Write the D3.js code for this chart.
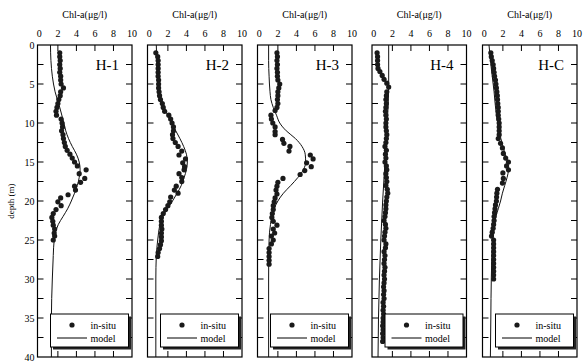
<!DOCTYPE html>
<html>
<head>
<meta charset="utf-8">
<script src="https://cdn.jsdelivr.net/npm/d3@7"></script>
<style>
body { margin: 0; background: #fff; }
svg { display: block; font-family: "Liberation Serif", "Times New Roman", serif; }
</style>
</head>
<body>
<script>
// station names and chl-a profiles, [depth (m), chl-a (ug/l)]
const stations = ["H-1", "H-2", "H-3", "H-4", "H-C"];
const chlTicks = [0, 2, 4, 6, 8, 10];
const depthLabels = [0, 5, 10, 15, 20, 25, 30, 35, 40];

const h1Insitu = [[1,2.2],[1.5,2.2],[2,2.25],[2.5,2.2],[3,2.25],[3.5,2.2],[4,2.3],[4.5,2.3],[5,2.35],[5.5,2.6],
  [6,2.3],[6.5,2.25],[7,2.1],[7.5,2.0],[8,1.9],[8.5,1.8],[9,1.85],[9.5,2.35],[10,2.45],[10.5,2.5],
  [11,2.4],[11.5,2.55],[12,2.6],[12.5,2.7],[13,2.8],[13.5,3.0],[14,3.3],[14.5,3.55],[15,3.8],[15.5,4.1],
  [16,5.05],[16.5,4.3],[17.1,4.9],[17.6,4.45],[18.1,3.8],[18.6,3.9],[19.2,3.1],[19.6,2.3],[20.1,2.0],[20.6,2.35],
  [21.1,1.8],[21.6,1.5],[22.1,1.35],[22.6,1.45],[23.1,1.5],[23.6,1.65],[24.1,1.6],[24.5,1.65],[25,1.5]];
const h2Insitu = [[1,0.7],[1.5,0.9],[2,0.95],[2.5,0.95],[3,0.95],[3.5,0.95],[4,0.95],[4.5,1.0],[5,1.0],[5.5,1.0],
  [6,1.05],[6.5,1.1],[7,1.2],[7.5,1.4],[8,1.5],[8.5,1.65],[9,2.1],[9.5,2.3],[10,2.45],[10.5,2.6],
  [11,2.6],[11.5,2.5],[12,2.55],[12.5,2.8],[13,3.1],[13.6,3.5],[14.1,3.2],[14.6,3.9],[15.1,3.6],[15.6,3.8],
  [16,3.75],[16.5,3.2],[17,3.5],[17.5,3.5],[18.1,2.9],[18.6,2.7],[19,3.1],[19.5,2.3],[20.1,2.2],[20.6,2.0],
  [21.1,1.75],[21.6,1.5],[22.1,1.3],[22.6,1.3],[23.1,1.3],[23.6,1.35],[24.1,1.3],[24.6,1.3],[25.1,1.3],[25.6,1.2],
  [26.1,1.1],[26.6,0.95],[27.1,0.9]];
const h3Insitu = [[1,1.9],[1.5,1.95],[2,1.9],[2.5,1.95],[3,1.9],[3.5,1.95],[4,1.95],[4.5,2.0],[5,2.2],[5.5,2.1],
  [6,2.0],[6.5,2.0],[7,1.95],[7.5,2.0],[8,1.9],[8.4,1.7],[9,1.25],[9.5,1.3],[10,1.45],[10.5,1.7],
  [11.1,1.7],[11.5,1.7],[12.1,2.5],[12.6,2.65],[13,3.3],[13.6,3.2],[14.1,5.5],[14.6,5.8],[15.1,5.1],[15.6,5.6],
  [16.1,4.9],[16.6,4.4],[17.1,2.55],[17.6,2.0],[18.1,1.9],[18.6,1.8],[19.1,1.9],[19.6,1.7],[20.1,1.6],[20.6,1.5],
  [21.1,1.5],[21.6,1.4],[22.1,1.35],[22.6,1.5],[23.1,1.9],[23.6,1.5],[24.1,1.65],[24.5,1.3],[25,1.5],[25.5,1.3],
  [26.1,1.05],[26.6,1.05],[27.1,1.05],[27.6,1.05],[28.1,1.05]];
const h4Insitu = [[1,0.35],[1.5,0.4],[2,0.4],[2.5,0.4],[3,0.45],[3.4,0.65],[3.9,0.9],[4.4,1.1],[4.9,1.4],[5.4,1.6],
  [6,1.4],[6.5,1.35],[7,1.3],[7.5,1.35],[8,1.3],[8.5,1.25],[9,1.3],[9.5,1.35],[10,1.3],[10.5,1.3],
  [11,1.35],[11.5,1.4],[12,1.35],[12.5,1.3],[13,1.2],[13.5,1.35],[14,1.25],[14.5,1.3],[15,1.2],[15.5,1.35],
  [16,1.4],[16.5,1.3],[17,1.35],[17.5,1.4],[18,1.3],[18.5,1.45],[19,1.5],[19.5,1.4],[20,1.35],[20.5,1.3],
  [21,1.3],[21.5,1.25],[22,1.2],[22.5,1.1],[23,1.25],[23.5,1.3],[24,1.2],[24.5,1.15],[25,1.1],[25.5,1.3],
  [26,1.25],[26.5,1.1],[27,1.2],[27.5,1.15],[28,1.1],[28.5,1.2],[29,1.15],[29.5,1.1],[30,1.15],[30.5,1.1],
  [31,1.05],[31.5,1.1],[32,1.05],[32.5,1.1],[33,1.0],[33.5,1.05],[34,1.0],[34.5,1.05],[35,1.0],[35.5,1.0],
  [36,0.95],[36.5,1.0],[37,0.95],[37.5,1.0],[38,0.95]];
const hcInsitu = [[1,0.7],[1.5,0.75],[2,0.85],[2.5,0.95],[3,1.0],[3.5,1.05],[4,1.1],[4.5,1.2],[5,1.25],[5.5,1.3],
  [6,1.35],[6.5,1.4],[7,1.42],[7.5,1.45],[8,1.5],[8.5,1.5],[9,1.5],[9.5,1.55],[10,1.6],[10.5,1.6],
  [11,1.6],[11.5,1.6],[12,1.5],[12.6,1.75],[13.2,1.95],[13.9,2.05],[14.5,2.3],[15,2.6],[15.5,2.4],[16,2.6],
  [16.4,2.0],[17.1,2.05],[17.7,1.95],[18.5,1.42],[19,1.35],[19.5,1.32],[20,1.3],[20.5,1.2],[21,1.15],[21.5,1.1],
  [22,1.05],[22.5,1.05],[23,1.0],[23.5,0.95],[24,0.85],[24.5,0.77],[25,1.0],[25.5,1.0],[26,1.0],[26.5,1.0],
  [27,1.0],[27.5,1.0],[28,1.0],[28.5,1.0],[29,1.0],[29.5,1.0],[30,1.0]];

const h1Model = [[0,1.2],[2,1.25],[4,1.4],[6,1.7],[8,2.2],[10,2.65],[11,2.85],[12,3.15],[13,3.55],[14,4.0],
  [15,4.3],[16,4.4],[17,4.3],[18,4.1],[19,3.8],[20,3.45],[21,3.05],[22,2.55],[23,2.05],[24,1.75],
  [25,1.6],[27,1.5],[30,1.4],[35,1.3],[40,1.3]];
const h2Model = [[0,0.75],[2,0.8],[4,0.9],[6,1.1],[8,1.6],[10,2.4],[11,2.85],[12,3.3],[13,3.7],[14,4.0],
  [15,4.1],[16,4.0],[17,3.75],[18,3.45],[19,3.0],[20,2.5],[21,1.95],[22,1.45],[23,1.15],[24,1.0],
  [25,0.9],[27,0.75],[30,0.7],[35,0.7],[40,0.7]];
const h3Model = [[0,1.0],[2,1.0],[4,1.05],[6,1.15],[7,1.25],[8,1.5],[9,1.85],[10,2.2],[11,2.9],[12,3.9],
  [13,4.6],[14,4.95],[15,5.0],[16,4.75],[17,4.15],[18,3.4],[19,2.6],[20,2.0],[21,1.6],[22,1.35],
  [23,1.2],[25,1.05],[30,1.0],[40,1.0]];
const h4Model = [[0,1.6],[5,1.6],[10,1.45],[15,1.2],[20,0.95],[25,0.75],[30,0.6],[35,0.5],[40,0.45]];
const hcModel = [[0,0.5],[3,0.75],[6,1.05],[9,1.3],[11,1.6],[13,2.0],[14,2.25],[15,2.5],[16,2.6],[17,2.45],
  [18,2.2],[19,1.95],[20,1.75],[21,1.5],[22,1.25],[23,1.1],[25,0.9],[30,0.75],[35,0.7],[40,0.65]];

const insitu = [h1Insitu, h2Insitu, h3Insitu, h4Insitu, hcInsitu];
const model = [h1Model, h2Model, h3Model, h4Model, hcModel];

const W = 583, H = 362;
const panelLeft = [37.5, 147.5, 257.5, 372, 482.5];
const panelW = 94.5;
const plotTop = 45, plotBottom = 357;

const svg = d3.select("body").append("svg")
    .attr("width", W)
    .attr("height", H);

const y = d3.scaleLinear().domain([0, 40]).range([plotTop, plotBottom]);

// depth axis labels (first panel only)
svg.append("g")
    .selectAll("text")
    .data(depthLabels)
    .join("text")
    .attr("x", panelLeft[0] - 3)
    .attr("y", d => y(d) + 3.5)
    .attr("text-anchor", "end")
    .style("font-size", "10px")
    .text(d => d);

svg.append("text")
    .attr("transform", `translate(14,${y(20)}) rotate(-90)`)
    .attr("text-anchor", "middle")
    .style("font-size", "9px")
    .text("depth (m)");

stations.forEach((name, i) => {
    const left = panelLeft[i], right = left + panelW;
    const x = d3.scaleLinear().domain([-0.2, 10]).range([left, right]);
    const g = svg.append("g");

    g.append("text")
        .attr("x", (left + right) / 2)
        .attr("y", 18)
        .attr("text-anchor", "middle")
        .style("font-size", "10px")
        .text("Chl-a(\u03bcg/l)");

    g.append("g")
        .selectAll("text")
        .data(chlTicks)
        .join("text")
        .attr("x", d => x(d))
        .attr("y", 37)
        .attr("text-anchor", "middle")
        .style("font-size", "10px")
        .text(d => d);

    // top / bottom ticks pointing inward
    const inner = chlTicks.filter(d => d > 0 && d < 10);
    g.append("g").selectAll("line").data(inner).join("line")
        .attr("x1", d => x(d)).attr("x2", d => x(d))
        .attr("y1", plotTop).attr("y2", plotTop + 6)
        .attr("stroke", "#000");
    g.append("g").selectAll("line").data(inner).join("line")
        .attr("x1", d => x(d)).attr("x2", d => x(d))
        .attr("y1", plotBottom).attr("y2", plotBottom - 6)
        .attr("stroke", "#000");

    // side ticks every 2.5 m
    const side = d3.range(2.5, 40, 2.5);
    g.append("g").selectAll("line").data(side).join("line")
        .attr("x1", left).attr("x2", left + 6)
        .attr("y1", d => y(d)).attr("y2", d => y(d))
        .attr("stroke", "#000");
    g.append("g").selectAll("line").data(side).join("line")
        .attr("x1", right).attr("x2", right - 6)
        .attr("y1", d => y(d)).attr("y2", d => y(d))
        .attr("stroke", "#000");

    g.append("rect")
        .attr("x", left).attr("y", plotTop)
        .attr("width", panelW).attr("height", plotBottom - plotTop)
        .attr("fill", "none")
        .attr("stroke", "#000")
        .attr("stroke-width", 1.2);

    const line = d3.line()
        .x(d => x(d[1]))
        .y(d => y(d[0]))
        .curve(d3.curveMonotoneY);

    g.append("path")
        .datum(model[i])
        .attr("d", line)
        .attr("fill", "none")
        .attr("stroke", "#111")
        .attr("stroke-width", 1);

    g.append("g").selectAll("circle")
        .data(insitu[i])
        .join("circle")
        .attr("cx", d => x(d[1]))
        .attr("cy", d => y(d[0]))
        .attr("r", 2.6)
        .attr("fill", "#1a1a1a");

    g.append("text")
        .attr("x", right - 13)
        .attr("y", 70)
        .attr("text-anchor", "end")
        .style("font-size", "15px")
        .text(name);

    // legend with drop shadow
    const lx = left + 13, ly = 314, lw = 78, lh = 33;
    g.append("rect")
        .attr("x", lx + 2.5).attr("y", ly + 2.5)
        .attr("width", lw).attr("height", lh)
        .attr("fill", "#222");
    g.append("rect")
        .attr("x", lx).attr("y", ly)
        .attr("width", lw).attr("height", lh)
        .attr("fill", "#fff")
        .attr("stroke", "#000");
    g.append("circle")
        .attr("cx", lx + 21.5).attr("cy", ly + 11)
        .attr("r", 2.6)
        .attr("fill", "#1a1a1a");
    g.append("line")
        .attr("x1", lx + 6.5).attr("x2", lx + 36.5)
        .attr("y1", ly + 24).attr("y2", ly + 24)
        .attr("stroke", "#000");
    g.append("text")
        .attr("x", lx + 40).attr("y", ly + 14.5)
        .style("font-size", "10px")
        .text("in-situ");
    g.append("text")
        .attr("x", lx + 40).attr("y", ly + 27.5)
        .style("font-size", "10px")
        .text("model");
});
</script>
</body>
</html>
